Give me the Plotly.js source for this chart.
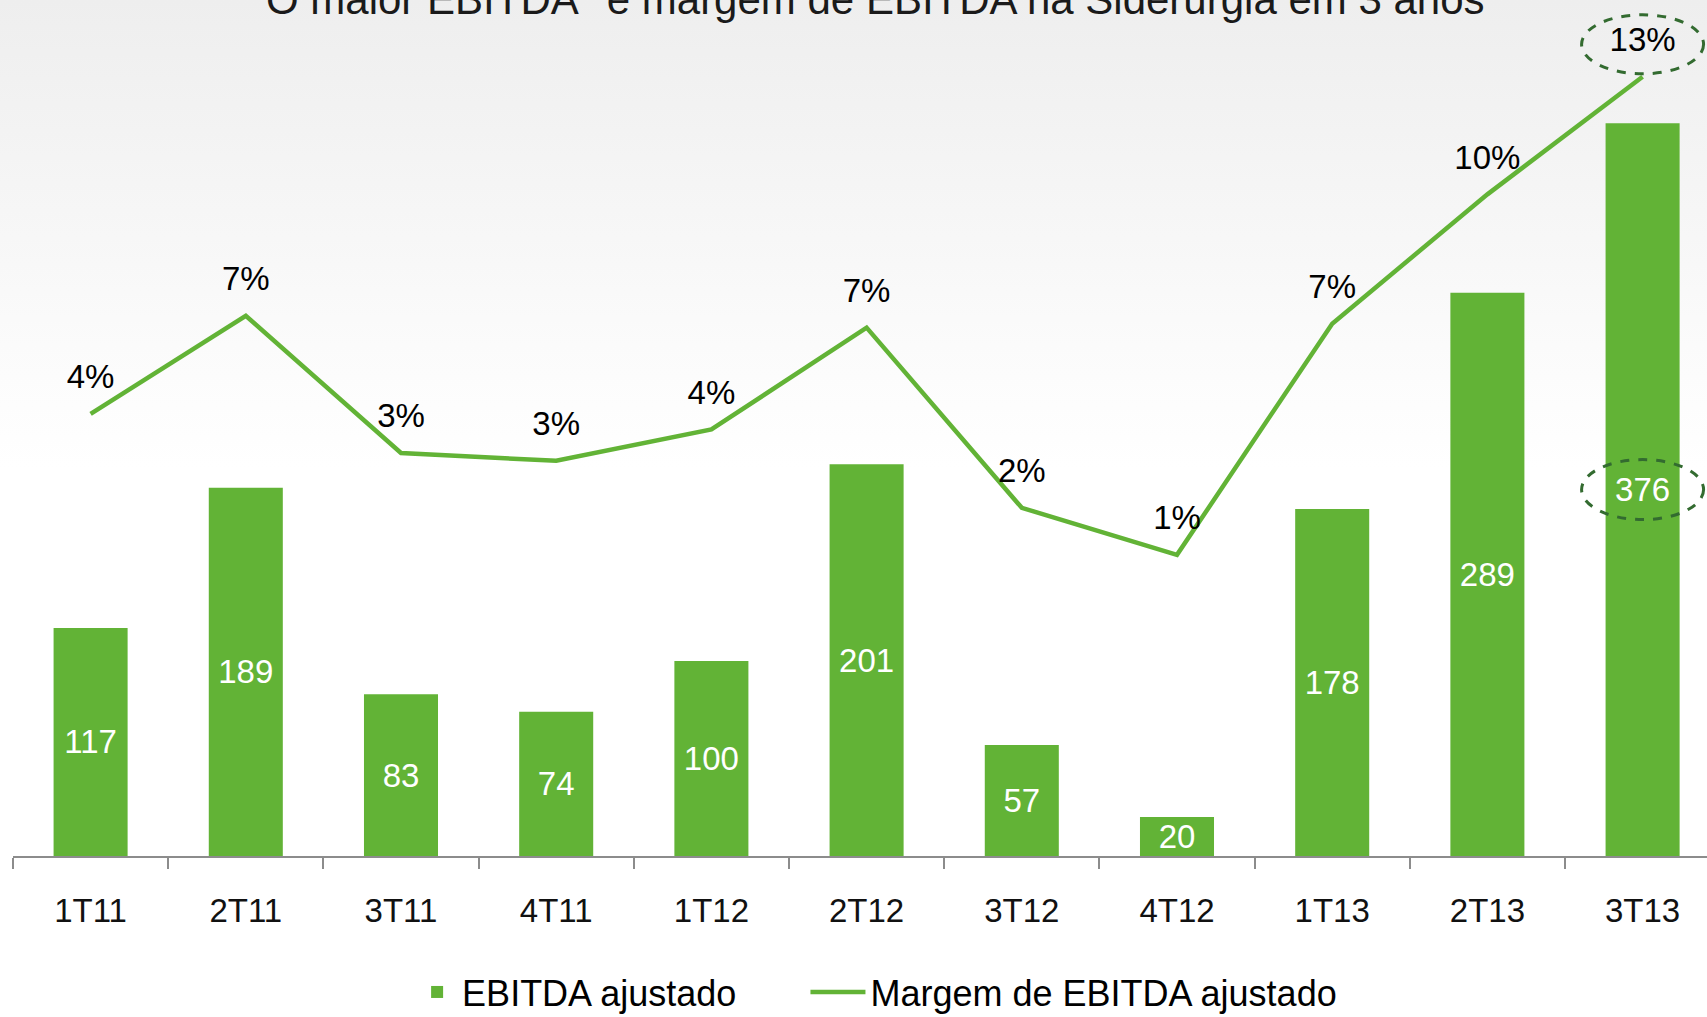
<!DOCTYPE html>
<html>
<head>
<meta charset="utf-8">
<script src="https://cdn.plot.ly/plotly-3.0.1.min.js"></script>
<style>
  html, body { margin: 0; padding: 0; }
  body {
    width: 1707px; height: 1017px; overflow: hidden;
    background: linear-gradient(to bottom, #eeeeee 0%, #f5f5f5 18%, #fbfbfb 34%, #ffffff 46%);
  }
  #chart { width: 1707px; height: 1017px; }
</style>
</head>
<body>
<div id="chart"></div>
<script>
// ---- data ----
const quarters = ["1T11", "2T11", "3T11", "4T11", "1T12", "2T12", "3T12", "4T12", "1T13", "2T13", "3T13"];
const ebitda = [117, 189, 83, 74, 100, 201, 57, 20, 178, 289, 376];
const margin = [4.4, 6.9, 3.4, 3.2, 4.0, 6.6, 2.0, 0.8, 6.7, 10.0, 13.0];
const marginLabels = ["4%", "7%", "3%", "3%", "4%", "7%", "2%", "1%", "7%", "10%", "13%"];
const titleText = "O maior EBITDA<sup>1</sup> e margem de EBITDA na Siderurgia em 3 anos";

// ---- style ----
const GREEN = "#62B336";
const DARKGREEN = "#336B30";
const FONT = "'Liberation Sans', Arial, sans-serif";

const last = quarters.length - 1;

const barTrace = {
  type: "bar",
  name: "EBITDA ajustado",
  legend: "legend",
  x: quarters,
  y: ebitda,
  text: ebitda.map(String),
  textposition: "inside",
  insidetextanchor: "middle",
  textangle: 0,
  constraintext: "none",
  textfont: { family: FONT, size: 33, color: "#ffffff" },
  marker: { color: GREEN },
  width: 0.477,
  cliponaxis: false,
  hoverinfo: "x+y"
};

const lineTrace = {
  type: "scatter",
  name: "Margem de EBITDA ajustado",
  legend: "legend2",
  x: quarters,
  y: margin,
  yaxis: "y2",
  mode: "lines",
  line: { color: GREEN, width: 4.5 },
  cliponaxis: false,
  hoverinfo: "x+y"
};

const labelTrace = {
  type: "scatter",
  name: "labels",
  showlegend: false,
  x: quarters,
  y: margin,
  yaxis: "y2",
  mode: "markers+text",
  text: marginLabels,
  textposition: "top center",
  textfont: { family: FONT, size: 33, color: "#000000" },
  marker: { size: 26, color: GREEN, opacity: 0 },
  cliponaxis: false,
  hoverinfo: "skip"
};

const legendStyle = {
  orientation: "h",
  xanchor: "left",
  y: -0.194,
  yanchor: "bottom",
  font: { family: FONT, size: 36, color: "#000" },
  bgcolor: "rgba(0,0,0,0)"
};

const layout = {
  width: 1707,
  height: 1017,
  margin: { l: 13, r: 0, t: 0, b: 161, autoexpand: false },
  paper_bgcolor: "rgba(0,0,0,0)",
  plot_bgcolor: "rgba(0,0,0,0)",
  font: { family: FONT, color: "#000" },
  showlegend: true,
  xaxis: {
    type: "category",
    range: [-0.5, 10.415],
    tickson: "boundaries",
    ticks: "outside",
    ticklen: 11,
    tickwidth: 2,
    tickcolor: "#8c8c8c",
    showline: true,
    linecolor: "#8c8c8c",
    linewidth: 2,
    showgrid: false,
    zeroline: false,
    automargin: false,
    tickfont: { family: FONT, size: 33, color: "#111111" },
    ticklabelstandoff: 24,
    fixedrange: true
  },
  yaxis: {
    range: [0, 439.2],
    visible: false,
    showgrid: false,
    zeroline: false,
    fixedrange: true
  },
  yaxis2: {
    overlaying: "y",
    range: [-6.885, 14.96],
    visible: false,
    showgrid: false,
    zeroline: false,
    fixedrange: true
  },
  legend: Object.assign({}, legendStyle, { x: 0.2356, itemwidth: 40 }),
  legend2: Object.assign({}, legendStyle, { x: 0.4678, itemwidth: 55 }),
  annotations: [
    {
      text: titleText,
      xref: "paper",
      yref: "paper",
      x: 0.509,
      y: 0.9707,
      xanchor: "center",
      yanchor: "bottom",
      showarrow: false,
      font: { family: FONT, size: 42, color: "#1a1a1a" }
    }
  ],
  shapes: [
    {
      type: "circle",
      xref: "x",
      yref: "y2",
      xsizemode: "pixel",
      ysizemode: "pixel",
      xanchor: last,
      yanchor: margin[last],
      x0: -61, x1: 61, y0: 3, y1: 62,
      line: { color: DARKGREEN, width: 3, dash: "dash" }
    },
    {
      type: "circle",
      xref: "x",
      yref: "y",
      xsizemode: "pixel",
      ysizemode: "pixel",
      xanchor: last,
      yanchor: ebitda[last] / 2,
      x0: -61, x1: 61, y0: -30, y1: 30,
      line: { color: DARKGREEN, width: 3, dash: "dash" }
    }
  ]
};

Plotly.newPlot("chart", [barTrace, lineTrace, labelTrace], layout, { displayModeBar: false });
</script>
</body>
</html>
